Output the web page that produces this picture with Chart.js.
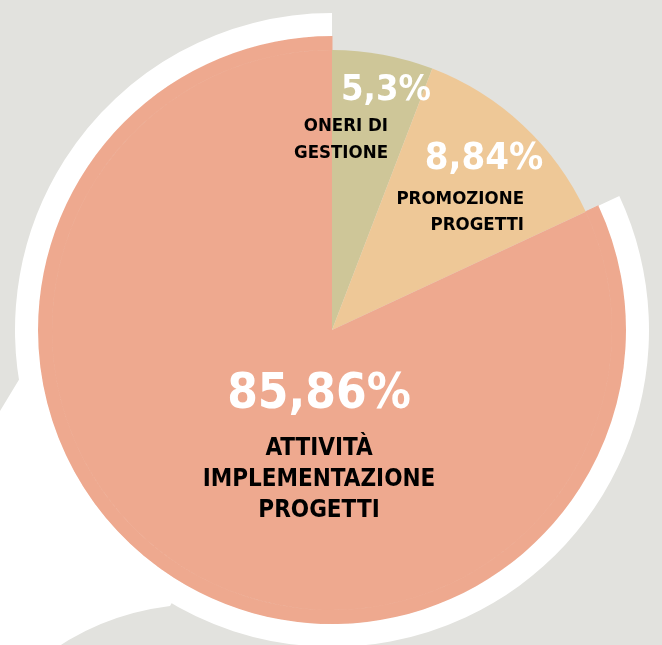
<!DOCTYPE html>
<html>
<head>
<meta charset="utf-8">
<script src="https://cdn.jsdelivr.net/npm/chart.js@4"></script>
<style>
  html, body { margin: 0; padding: 0; background: #e2e2de; overflow: hidden; }
  #pie { display: block; }
</style>
</head>
<body>
<canvas id="pie" width="662" height="660"></canvas>
<script>
// slices, clockwise from 12 o'clock
const categories = ["ONERI DI GESTIONE", "PROMOZIONE PROGETTI", "ATTIVITÀ IMPLEMENTAZIONE PROGETTI"];
const percentLabels = ["5,3%", "8,84%", "85,86%"];
// angular size of each slice as drawn in the picture (degrees)
const sliceDegrees = [21, 44, 295];
const nameLines = [["ONERI DI", "GESTIONE"], ["PROMOZIONE", "PROGETTI"], ["ATTIVITÀ", "IMPLEMENTAZIONE", "PROGETTI"]];

const sliceColors = ["#cec698", "#eec897", "#eea98f"];
const clear = "rgba(0,0,0,0)";
const salmon = sliceColors[2];

// white speech bubble tail behind the pie
const bubbleTail = {
  id: "bubbleTail",
  beforeDatasetsDraw(chart) {
    const arc = chart.getDatasetMeta(0).data[0];
    const cx = arc.x, cy = arc.y;
    const ctx = chart.ctx;
    ctx.save();
    ctx.fillStyle = "#ffffff";
    ctx.beginPath();
    ctx.moveTo(cx - 312, cy + 48);
    ctx.lineTo(-20, cy + 114);
    ctx.lineTo(-20, 700);
    ctx.lineTo(30, 668);
    ctx.quadraticCurveTo(90, 616, cx - 162, cy + 276);
    ctx.lineTo(cx, cy);
    ctx.closePath();
    ctx.fill();
    ctx.restore();
  }
};

// percentage and name texts inside the slices
const sliceText = {
  id: "sliceText",
  afterDatasetsDraw(chart) {
    const arc = chart.getDatasetMeta(0).data[0];
    const cx = arc.x, cy = arc.y;
    const ctx = chart.ctx;
    const pctFont = "bold SIZEpx 'DejaVu Sans Condensed', 'DejaVu Sans', sans-serif";
    const nameFont = "bold SIZEpx 'DejaVu Sans Condensed', 'DejaVu Sans', sans-serif";
    ctx.save();
    ctx.textBaseline = "alphabetic";

    // 5,3%
    ctx.fillStyle = "#ffffff";
    ctx.textAlign = "center";
    ctx.font = pctFont.replace("SIZE", 36);
    ctx.fillText(percentLabels[0], cx + 54, cy - 230);
    ctx.font = pctFont.replace("SIZE", 38);
    ctx.fillText(percentLabels[1], cx + 152, cy - 161);
    ctx.font = pctFont.replace("SIZE", 49);
    ctx.fillText(percentLabels[2], cx - 13, cy + 78);

    ctx.fillStyle = "#000000";
    ctx.textAlign = "right";
    ctx.font = nameFont.replace("SIZE", 18.5);
    nameLines[0].forEach((t, i) => ctx.fillText(t, cx + 56, cy - 199 + i * 27));
    nameLines[1].forEach((t, i) => ctx.fillText(t, cx + 192, cy - 126 + i * 26));
    ctx.textAlign = "center";
    ctx.font = nameFont.replace("SIZE", 24);
    nameLines[2].forEach((t, i) => ctx.fillText(t, cx - 13, cy + 125 + i * 31));
    ctx.restore();
  }
};

new Chart(document.getElementById("pie"), {
  type: "pie",
  data: {
    labels: categories,
    datasets: [
      { data: sliceDegrees, backgroundColor: [clear, clear, "#ffffff"], borderWidth: 0, weight: 23 },
      { data: sliceDegrees, backgroundColor: [clear, clear, salmon], borderColor: salmon, borderWidth: [0, 0, 1], weight: 14 },
      { data: sliceDegrees, backgroundColor: sliceColors, borderWidth: 0, weight: 280 }
    ]
  },
  options: {
    responsive: false,
    animation: false,
    radius: 317,
    layout: { padding: { left: 2 } },
    plugins: { legend: { display: false }, tooltip: { enabled: false } }
  },
  plugins: [bubbleTail, sliceText]
});
</script>
</body>
</html>
